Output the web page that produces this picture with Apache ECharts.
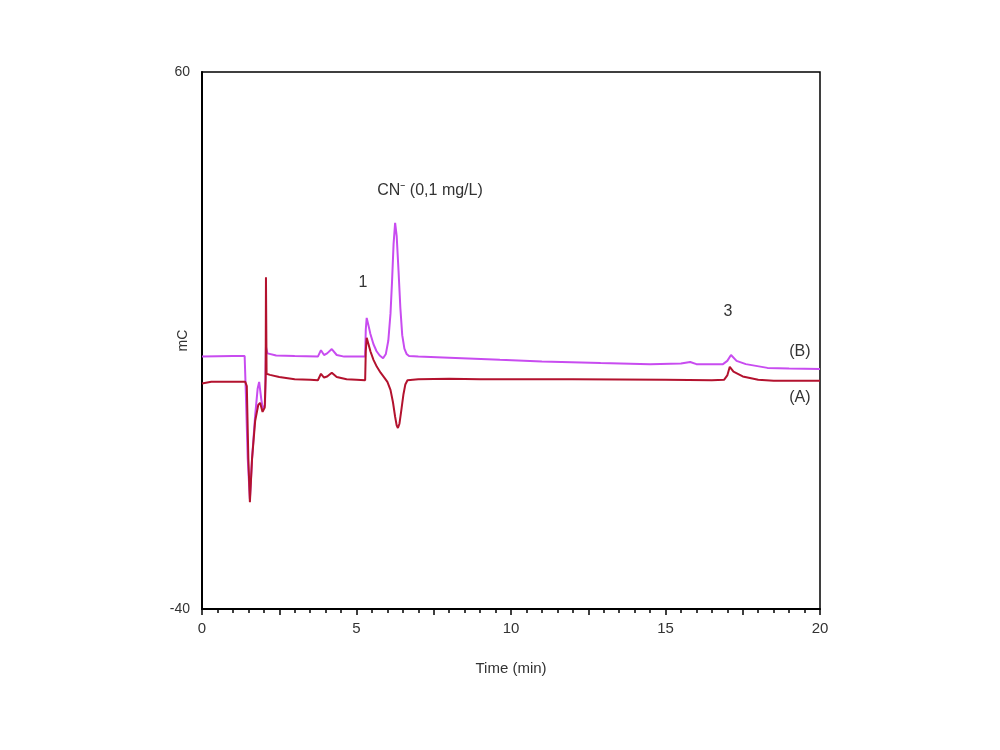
<!DOCTYPE html>
<html>
<head>
<meta charset="utf-8">
<script src="https://cdn.jsdelivr.net/npm/echarts@6/dist/echarts.min.js"></script>
<style>html,body{margin:0;padding:0;background:#fff}#c{width:1000px;height:750px}</style>
</head>
<body>
<div id="c"></div>
<script>
// Trace A (red)
var timeA = [0, 0.3, 1.0, 1.40, 1.45, 1.50, 1.55, 1.62, 1.72, 1.82, 1.88, 1.96, 2.03, 2.06, 2.07, 2.09, 2.2, 2.5, 3.0, 3.5, 3.75, 3.78, 3.85, 3.95, 4.05, 4.2, 4.36, 4.68, 5.0, 5.28, 5.30, 5.33, 5.38, 5.45, 5.55, 5.66, 5.78, 5.9, 6.0, 6.1, 6.18, 6.25, 6.3, 6.34, 6.39, 6.45, 6.52, 6.58, 6.65, 7.0, 8, 9, 12, 15, 16.5, 16.9, 17.0, 17.08, 17.2, 17.5, 18.0, 18.5, 20];
var valuesA = [2.0, 2.3, 2.3, 2.3, 1.5, -12, -20.1, -12, -5, -2.0, -1.6, -3.3, -2.5, 3.0, 21.8, 3.8, 3.6, 3.2, 2.8, 2.7, 2.6, 2.3, 3.8, 3.1, 3.3, 4.0, 3.2, 2.8, 2.7, 2.6, 8.0, 10.5, 9.5, 8.0, 6.4, 5.1, 4.0, 3.1, 2.3, 0.8, -1.5, -4.2, -5.8, -6.3, -5.5, -3.0, 0.0, 1.8, 2.6, 2.8, 2.9, 2.8, 2.8, 2.7, 2.6, 2.7, 3.5, 5.1, 4.2, 3.3, 2.7, 2.5, 2.5];
// Trace B (violet)
var timeB = [0, 1.0, 1.38, 1.42, 1.48, 1.55, 1.62, 1.72, 1.80, 1.85, 1.92, 1.97, 2.04, 2.07, 2.12, 2.4, 3.0, 3.75, 3.78, 3.85, 3.95, 4.05, 4.2, 4.36, 4.6, 5.28, 5.30, 5.33, 5.38, 5.45, 5.55, 5.65, 5.75, 5.86, 5.95, 6.03, 6.1, 6.15, 6.2, 6.25, 6.3, 6.36, 6.42, 6.48, 6.55, 6.62, 6.7, 7.0, 8.0, 9.64, 11, 12.9, 14.5, 15.5, 15.8, 16.0, 16.86, 17.0, 17.12, 17.3, 17.6, 18.3, 19, 20];
var valuesB = [7.0, 7.1, 7.1, 0, -12, -19.5, -12, -4, 1, 2.3, -1, -2.8, -2, 8.8, 7.6, 7.2, 7.1, 7.0, 6.8, 8.2, 7.3, 7.6, 8.4, 7.3, 7.0, 7.0, 12.0, 14.2, 13.0, 11.2, 9.3, 8.0, 7.2, 6.7, 7.5, 10, 15, 21, 28, 31.9, 29.5, 23, 16, 11, 8.5, 7.5, 7.1, 7.0, 6.8, 6.4, 6.1, 5.8, 5.6, 5.7, 6.0, 5.6, 5.6, 6.2, 7.3, 6.2, 5.6, 4.9, 4.8, 4.7];
// Annotations
var annTexts = ['CN\u207B (0,1 mg/L)', '1', '3', '(B)', '(A)'];
var annX = [7.38, 5.21, 17.02, 19.35, 19.35];
var annY = [38.0, 20.7, 15.3, 7.9, -0.7];
var xTicks = [0, 5, 10, 15, 20];
var yTicks = [-40, 60];

function pairs(t, v) { return t.map(function (x, i) { return [x, v[i]]; }); }
var ann = annTexts.map(function (s, i) {
  return { coord: [annX[i], annY[i]], value: s, label: { formatter: s } };
});

var FONT = 'Liberation Sans, Arial, sans-serif';
var chart = echarts.init(document.getElementById('c'), null, { renderer: 'canvas' });
chart.setOption({
  animation: false,
  backgroundColor: '#fff',
  textStyle: { fontFamily: FONT },
  grid: { left: 202, right: 180, top: 72, bottom: 141, show: true, borderColor: '#000', borderWidth: 1.5, backgroundColor: 'transparent' },
  xAxis: {
    type: 'value', min: 0, max: 20, interval: 2.5,
    name: 'Time (min)', nameLocation: 'middle', nameGap: 52,
    nameTextStyle: { fontSize: 15, color: '#333', fontFamily: FONT },
    axisLine: { show: true, onZero: false, lineStyle: { color: '#000', width: 2 } },
    axisTick: { show: true, inside: false, length: 6, lineStyle: { color: '#000', width: 1.5 } },
    minorTick: { show: true, splitNumber: 5, length: 4, lineStyle: { color: '#000', width: 1.5 } },
    splitLine: { show: false },
    axisLabel: {
      color: '#333', fontSize: 15, margin: 12, fontFamily: FONT,
      formatter: function (v) { return xTicks.indexOf(v) >= 0 ? String(v) : ''; }
    }
  },
  yAxis: {
    type: 'value', min: -40, max: 60, interval: 100,
    name: 'mC', nameLocation: 'middle', nameGap: 12, nameRotate: 90, nameMoveOverlap: false,
    nameTextStyle: { fontSize: 14, color: '#333', fontFamily: FONT },
    axisLine: { show: true, onZero: false, lineStyle: { color: '#000', width: 2 } },
    axisTick: { show: false },
    splitLine: { show: false },
    axisLabel: {
      color: '#333', fontSize: 14, margin: 12, fontFamily: FONT,
      formatter: function (v) { return yTicks.indexOf(v) >= 0 ? String(v) : ''; }
    }
  },
  series: [
    {
      name: 'B', type: 'line', data: pairs(timeB, valuesB), showSymbol: false, symbol: 'none',
      lineStyle: { color: '#c84cf0', width: 2 }, z: 2,
      markPoint: {
        symbol: 'circle', symbolSize: 0, silent: true,
        label: { show: true, position: 'inside', color: '#333', fontSize: 16, fontFamily: FONT },
        data: ann
      }
    },
    {
      name: 'A', type: 'line', data: pairs(timeA, valuesA), showSymbol: false, symbol: 'none',
      lineStyle: { color: '#b3122e', width: 2 }, z: 3
    }
  ]
});
</script>
</body>
</html>
